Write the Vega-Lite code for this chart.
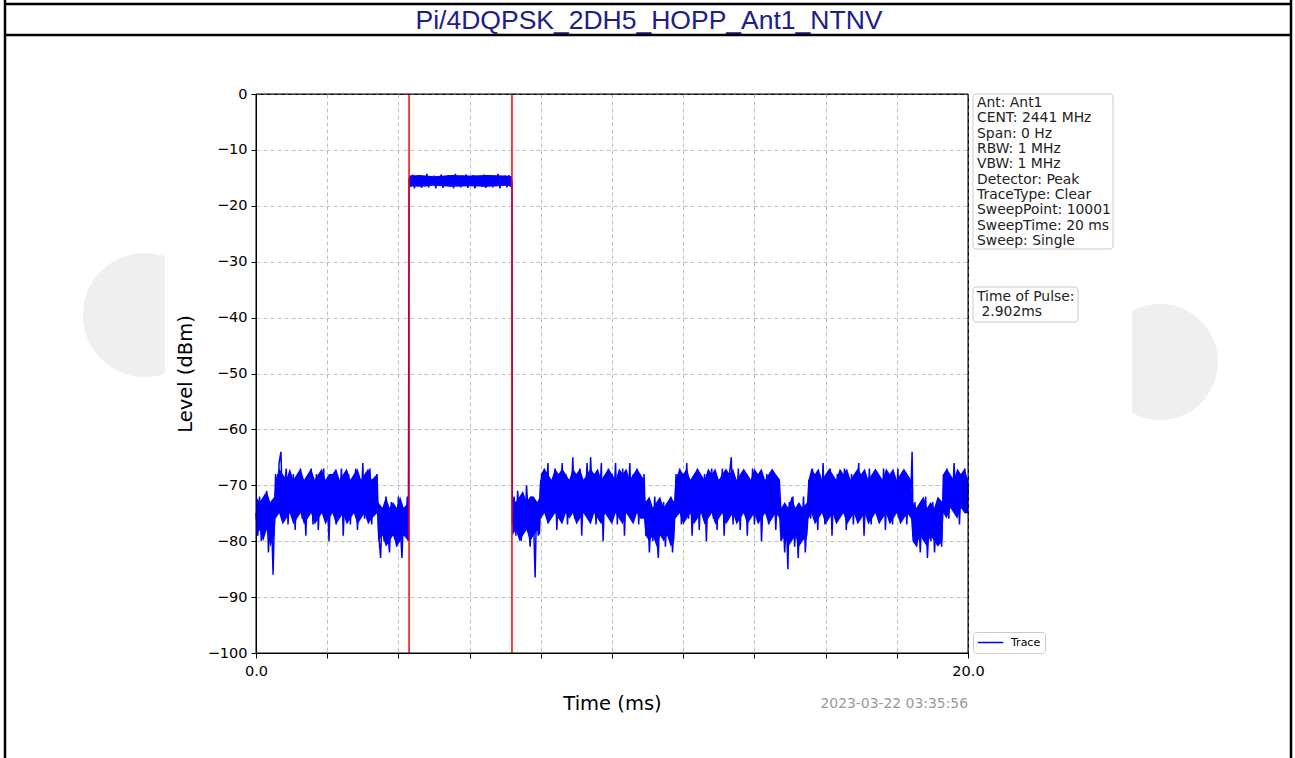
{
  "$schema": "https://vega.github.io/schema/vega-lite/v6.json",
  "autosize": {"type": "none"},
  "width": 712,
  "height": 559,
  "padding": {"left": 256, "top": 94, "right": 327, "bottom": 105},
  "background": "white",
  "config": {
    "view": {"stroke": "black", "strokeWidth": 1},
    "axis": {"labelFont": "DejaVu Sans", "labelFontSize": 14.5, "labelColor": "black", "tickColor": "black", "domainColor": "black", "tickSize": 5, "labelPadding": 4, "gridColor": "#b0b0b0", "gridDash": [4, 3], "gridWidth": 0.8, "titleFont": "DejaVu Sans", "titleFontSize": 19.5, "titleFontWeight": "normal", "titleColor": "black"}
  },
  "layer": [
    {
      "data": {"values": [{}]},
      "mark": {"type": "point", "shape": "M0.32,-0.947A1,1,0,1,0,0.32,0.947Z", "filled": true, "fill": "#efefef", "stroke": null, "opacity": 1, "size": 15376},
      "encoding": {"x": {"value": -111}, "y": {"value": 221}}
    },
    {
      "data": {"values": [{}]},
      "mark": {"type": "point", "shape": "M-0.483,-0.876A1,1,0,1,1,-0.483,0.876Z", "filled": true, "fill": "#efefef", "stroke": null, "opacity": 1, "size": 13456},
      "encoding": {"x": {"value": 904}, "y": {"value": 268}}
    },
    {
      "data": {"values": [
        {"t":0,"lo":-79,"hi":-72},{"t":0.1,"lo":-78,"hi":-73},{"t":0.2,"lo":-80,"hi":-72},{"t":0.3,"lo":-78,"hi":-71},{"t":0.4,"lo":-81,"hi":-73},{"t":0.52,"lo":-79,"hi":-72},
        {"t":0.55,"lo":-76,"hi":-69},{"t":0.65,"lo":-75,"hi":-67},{"t":0.75,"lo":-77,"hi":-68},{"t":0.85,"lo":-76,"hi":-69},{"t":0.95,"lo":-75,"hi":-67},{"t":1.05,"lo":-77,"hi":-69},{"t":1.15,"lo":-76,"hi":-68},{"t":1.25,"lo":-75,"hi":-67},{"t":1.35,"lo":-77,"hi":-69},{"t":1.45,"lo":-76,"hi":-68},{"t":1.55,"lo":-75,"hi":-67},{"t":1.65,"lo":-77,"hi":-69},{"t":1.75,"lo":-76,"hi":-68},{"t":1.85,"lo":-75,"hi":-67},{"t":1.95,"lo":-77,"hi":-69},{"t":2.05,"lo":-76,"hi":-68},{"t":2.15,"lo":-75,"hi":-68},{"t":2.25,"lo":-77,"hi":-67},{"t":2.35,"lo":-76,"hi":-69},{"t":2.45,"lo":-75,"hi":-68},{"t":2.55,"lo":-77,"hi":-67},{"t":2.65,"lo":-76,"hi":-69},{"t":2.75,"lo":-75,"hi":-68},{"t":2.85,"lo":-77,"hi":-67},{"t":2.95,"lo":-76,"hi":-69},{"t":3.05,"lo":-75,"hi":-68},{"t":3.15,"lo":-77,"hi":-67},{"t":3.25,"lo":-76,"hi":-69},{"t":3.4,"lo":-75,"hi":-68},
        {"t":3.43,"lo":-80,"hi":-73},{"t":3.55,"lo":-79,"hi":-74},{"t":3.65,"lo":-81,"hi":-72},{"t":3.75,"lo":-80,"hi":-74},{"t":3.85,"lo":-79,"hi":-73},{"t":3.95,"lo":-81,"hi":-74},{"t":4.05,"lo":-80,"hi":-72},{"t":4.15,"lo":-79,"hi":-74},{"t":4.28,"lo":-80,"hi":-73},
        {"t":4.3,"lo":-16.5,"hi":-14.6},{"t":4.6,"lo":-16.6,"hi":-14.5},{"t":5,"lo":-16.4,"hi":-14.7},{"t":5.5,"lo":-16.6,"hi":-14.5},{"t":6,"lo":-16.5,"hi":-14.6},{"t":6.5,"lo":-16.6,"hi":-14.5},{"t":7,"lo":-16.4,"hi":-14.6},{"t":7.19,"lo":-16.5,"hi":-14.7},
        {"t":7.2,"lo":-79,"hi":-72},{"t":7.3,"lo":-78,"hi":-73},{"t":7.4,"lo":-80,"hi":-72},{"t":7.5,"lo":-79,"hi":-71},{"t":7.6,"lo":-78,"hi":-73},{"t":7.7,"lo":-80,"hi":-72},{"t":7.8,"lo":-79,"hi":-72},{"t":7.9,"lo":-78,"hi":-73},{"t":7.98,"lo":-79,"hi":-72},
        {"t":8,"lo":-76,"hi":-68},{"t":8.1,"lo":-75,"hi":-67},{"t":8.2,"lo":-77,"hi":-68},{"t":8.3,"lo":-76,"hi":-69},{"t":8.4,"lo":-75,"hi":-67},{"t":8.5,"lo":-76,"hi":-68},{"t":8.6,"lo":-77,"hi":-67},{"t":8.7,"lo":-75,"hi":-68},{"t":8.8,"lo":-76,"hi":-69},{"t":8.9,"lo":-75,"hi":-67},{"t":9,"lo":-77,"hi":-68},{"t":9.1,"lo":-76,"hi":-67},{"t":9.2,"lo":-75,"hi":-69},{"t":9.3,"lo":-76,"hi":-68},{"t":9.4,"lo":-77,"hi":-67},{"t":9.5,"lo":-75,"hi":-68},{"t":9.6,"lo":-76,"hi":-67},{"t":9.7,"lo":-77,"hi":-69},{"t":9.8,"lo":-75,"hi":-68},{"t":9.9,"lo":-76,"hi":-67},{"t":10,"lo":-77,"hi":-68},{"t":10.1,"lo":-75,"hi":-69},{"t":10.2,"lo":-76,"hi":-67},{"t":10.3,"lo":-77,"hi":-68},{"t":10.4,"lo":-75,"hi":-67},{"t":10.5,"lo":-76,"hi":-69},{"t":10.6,"lo":-77,"hi":-68},{"t":10.7,"lo":-75,"hi":-67},{"t":10.8,"lo":-76,"hi":-68},{"t":10.9,"lo":-76,"hi":-69},
        {"t":10.94,"lo":-79,"hi":-73},{"t":11.05,"lo":-80,"hi":-72},{"t":11.15,"lo":-79,"hi":-74},{"t":11.25,"lo":-81,"hi":-73},{"t":11.35,"lo":-79,"hi":-72},{"t":11.45,"lo":-80,"hi":-74},{"t":11.55,"lo":-79,"hi":-73},{"t":11.65,"lo":-81,"hi":-72},{"t":11.75,"lo":-80,"hi":-73},
        {"t":11.78,"lo":-76,"hi":-69},{"t":11.9,"lo":-75,"hi":-67},{"t":12,"lo":-77,"hi":-68},{"t":12.1,"lo":-76,"hi":-67},{"t":12.2,"lo":-75,"hi":-69},{"t":12.3,"lo":-77,"hi":-68},{"t":12.4,"lo":-76,"hi":-67},{"t":12.5,"lo":-75,"hi":-68},{"t":12.6,"lo":-77,"hi":-69},{"t":12.7,"lo":-76,"hi":-67},{"t":12.8,"lo":-75,"hi":-68},{"t":12.9,"lo":-77,"hi":-67},{"t":13,"lo":-76,"hi":-69},{"t":13.1,"lo":-75,"hi":-68},{"t":13.2,"lo":-77,"hi":-67},{"t":13.3,"lo":-76,"hi":-68},{"t":13.4,"lo":-75,"hi":-67},{"t":13.5,"lo":-77,"hi":-69},{"t":13.6,"lo":-76,"hi":-68},{"t":13.7,"lo":-75,"hi":-67},{"t":13.8,"lo":-77,"hi":-68},{"t":13.9,"lo":-76,"hi":-69},{"t":14,"lo":-75,"hi":-67},{"t":14.1,"lo":-77,"hi":-68},{"t":14.2,"lo":-76,"hi":-67},{"t":14.3,"lo":-75,"hi":-69},{"t":14.4,"lo":-77,"hi":-68},{"t":14.5,"lo":-76,"hi":-67},{"t":14.6,"lo":-75,"hi":-68},{"t":14.72,"lo":-76,"hi":-69},
        {"t":14.76,"lo":-80,"hi":-74},{"t":14.85,"lo":-79,"hi":-73},{"t":14.95,"lo":-81,"hi":-74},{"t":15.05,"lo":-80,"hi":-72},{"t":15.15,"lo":-79,"hi":-74},{"t":15.25,"lo":-81,"hi":-73},{"t":15.35,"lo":-80,"hi":-74},{"t":15.49,"lo":-79,"hi":-73},
        {"t":15.52,"lo":-76,"hi":-69},{"t":15.6,"lo":-75,"hi":-67},{"t":15.7,"lo":-77,"hi":-68},{"t":15.8,"lo":-76,"hi":-67},{"t":15.9,"lo":-75,"hi":-69},{"t":16,"lo":-77,"hi":-68},{"t":16.1,"lo":-76,"hi":-67},{"t":16.2,"lo":-75,"hi":-68},{"t":16.3,"lo":-77,"hi":-69},{"t":16.4,"lo":-76,"hi":-67},{"t":16.5,"lo":-75,"hi":-68},{"t":16.6,"lo":-77,"hi":-67},{"t":16.7,"lo":-76,"hi":-69},{"t":16.8,"lo":-75,"hi":-68},{"t":16.9,"lo":-77,"hi":-67},{"t":17,"lo":-76,"hi":-68},{"t":17.1,"lo":-75,"hi":-67},{"t":17.2,"lo":-77,"hi":-69},{"t":17.3,"lo":-76,"hi":-68},{"t":17.4,"lo":-75,"hi":-67},{"t":17.5,"lo":-77,"hi":-68},{"t":17.6,"lo":-76,"hi":-69},{"t":17.7,"lo":-75,"hi":-67},{"t":17.8,"lo":-77,"hi":-68},{"t":17.9,"lo":-76,"hi":-67},{"t":18,"lo":-75,"hi":-69},{"t":18.1,"lo":-77,"hi":-68},{"t":18.2,"lo":-76,"hi":-67},{"t":18.3,"lo":-75,"hi":-68},{"t":18.4,"lo":-76,"hi":-69},
        {"t":18.44,"lo":-80,"hi":-73},{"t":18.55,"lo":-81,"hi":-74},{"t":18.65,"lo":-79,"hi":-73},{"t":18.75,"lo":-80,"hi":-72},{"t":18.85,"lo":-81,"hi":-74},{"t":18.95,"lo":-79,"hi":-73},{"t":19.05,"lo":-80,"hi":-74},{"t":19.15,"lo":-81,"hi":-72},{"t":19.28,"lo":-80,"hi":-73},
        {"t":19.31,"lo":-75,"hi":-68},{"t":19.4,"lo":-76,"hi":-67},{"t":19.5,"lo":-74,"hi":-68},{"t":19.6,"lo":-75,"hi":-69},{"t":19.7,"lo":-76,"hi":-67},{"t":19.8,"lo":-74,"hi":-68},{"t":19.9,"lo":-75,"hi":-67},{"t":20,"lo":-75,"hi":-69}
      ]},
      "mark": {"type": "area", "interpolate": "linear", "color": "#0000ff", "opacity": 1},
      "encoding": {
        "x": {"field": "t", "type": "quantitative", "title": "Time (ms)"},
        "y": {"field": "lo", "type": "quantitative", "title": "Level (dBm)"},
        "y2": {"field": "hi"}
      }
    },
    {
      "data": {"values": [
        {"t":0,"v":-75},{"t":0.05,"v":-79},{"t":0.1,"v":-72},{"t":0.15,"v":-80},{"t":0.2,"v":-73},{"t":0.25,"v":-78},{"t":0.3,"v":-71},{"t":0.35,"v":-82},{"t":0.4,"v":-74},{"t":0.45,"v":-79},{"t":0.48,"v":-86},{"t":0.52,"v":-75},
        {"t":0.55,"v":-68},{"t":0.6,"v":-74},{"t":0.65,"v":-66},{"t":0.7,"v":-64},{"t":0.75,"v":-75},{"t":0.8,"v":-70},{"t":0.85,"v":-67},{"t":0.9,"v":-77},{"t":0.95,"v":-69},{"t":1,"v":-74},{"t":1.05,"v":-68},{"t":1.1,"v":-78},{"t":1.15,"v":-70},{"t":1.2,"v":-75},{"t":1.25,"v":-67},{"t":1.3,"v":-76},{"t":1.35,"v":-71},{"t":1.4,"v":-79},{"t":1.45,"v":-69},{"t":1.5,"v":-74},{"t":1.55,"v":-67},{"t":1.6,"v":-77},{"t":1.65,"v":-72},{"t":1.7,"v":-68},{"t":1.75,"v":-78},{"t":1.8,"v":-70},{"t":1.85,"v":-74},{"t":1.9,"v":-67},{"t":1.95,"v":-76},{"t":2,"v":-71},{"t":2.05,"v":-80},{"t":2.1,"v":-69},{"t":2.15,"v":-75},{"t":2.2,"v":-68},{"t":2.25,"v":-77},{"t":2.3,"v":-70},{"t":2.35,"v":-73},{"t":2.4,"v":-67},{"t":2.45,"v":-79},{"t":2.5,"v":-71},{"t":2.55,"v":-75},{"t":2.6,"v":-68},{"t":2.65,"v":-77},{"t":2.7,"v":-69},{"t":2.75,"v":-74},{"t":2.8,"v":-67},{"t":2.85,"v":-78},{"t":2.9,"v":-70},{"t":2.95,"v":-75},{"t":3,"v":-66},{"t":3.05,"v":-76},{"t":3.1,"v":-69},{"t":3.15,"v":-74},{"t":3.2,"v":-67},{"t":3.25,"v":-77},{"t":3.3,"v":-70},{"t":3.35,"v":-75},{"t":3.4,"v":-68},
        {"t":3.45,"v":-79},{"t":3.5,"v":-83},{"t":3.55,"v":-74},{"t":3.6,"v":-80},{"t":3.65,"v":-72},{"t":3.7,"v":-78},{"t":3.75,"v":-82},{"t":3.8,"v":-73},{"t":3.85,"v":-79},{"t":3.9,"v":-75},{"t":3.95,"v":-81},{"t":4,"v":-72},{"t":4.05,"v":-77},{"t":4.1,"v":-83},{"t":4.15,"v":-74},{"t":4.2,"v":-79},{"t":4.25,"v":-72},{"t":4.28,"v":-80},
        {"t":4.3,"v":-15},{"t":4.35,"v":-16.6},{"t":4.4,"v":-14.4},{"t":4.45,"v":-16.9},{"t":4.5,"v":-14.8},{"t":4.55,"v":-16.3},{"t":4.6,"v":-14.5},{"t":4.65,"v":-16.8},{"t":4.7,"v":-15},{"t":4.75,"v":-16.5},{"t":4.8,"v":-14.3},{"t":4.85,"v":-16.7},{"t":4.9,"v":-14.9},{"t":4.95,"v":-16.2},{"t":5,"v":-14.6},{"t":5.05,"v":-16.9},{"t":5.1,"v":-15.1},{"t":5.15,"v":-16.4},{"t":5.2,"v":-14.4},{"t":5.25,"v":-16.8},{"t":5.3,"v":-14.7},{"t":5.35,"v":-16.1},{"t":5.4,"v":-14.5},{"t":5.45,"v":-16.6},{"t":5.5,"v":-14.9},{"t":5.55,"v":-16.9},{"t":5.6,"v":-14.3},{"t":5.65,"v":-16.5},{"t":5.7,"v":-15},{"t":5.75,"v":-16.7},{"t":5.8,"v":-14.6},{"t":5.85,"v":-16.2},{"t":5.9,"v":-14.4},{"t":5.95,"v":-16.8},{"t":6,"v":-14.8},{"t":6.05,"v":-16.4},{"t":6.1,"v":-14.5},{"t":6.15,"v":-16.9},{"t":6.2,"v":-15},{"t":6.25,"v":-16.3},{"t":6.3,"v":-14.7},{"t":6.35,"v":-16.6},{"t":6.4,"v":-14.4},{"t":6.45,"v":-16.8},{"t":6.5,"v":-14.9},{"t":6.55,"v":-16.2},{"t":6.6,"v":-14.5},{"t":6.65,"v":-16.7},{"t":6.7,"v":-14.6},{"t":6.75,"v":-16.5},{"t":6.8,"v":-14.3},{"t":6.85,"v":-16.9},{"t":6.9,"v":-14.8},{"t":6.95,"v":-16.4},{"t":7,"v":-14.6},{"t":7.05,"v":-16.7},{"t":7.1,"v":-14.5},{"t":7.15,"v":-16.6},{"t":7.19,"v":-15.5},
        {"t":7.2,"v":-77},{"t":7.25,"v":-72},{"t":7.3,"v":-79},{"t":7.35,"v":-71},{"t":7.4,"v":-76},{"t":7.45,"v":-80},{"t":7.5,"v":-73},{"t":7.55,"v":-78},{"t":7.6,"v":-70},{"t":7.65,"v":-76},{"t":7.7,"v":-81},{"t":7.75,"v":-72},{"t":7.8,"v":-77},{"t":7.84,"v":-86.5},{"t":7.88,"v":-74},{"t":7.93,"v":-79},{"t":7.98,"v":-71},
        {"t":8,"v":-69},{"t":8.05,"v":-75},{"t":8.1,"v":-67},{"t":8.15,"v":-73},{"t":8.2,"v":-66},{"t":8.25,"v":-76},{"t":8.3,"v":-69},{"t":8.35,"v":-74},{"t":8.4,"v":-67},{"t":8.45,"v":-78},{"t":8.5,"v":-70},{"t":8.55,"v":-73},{"t":8.6,"v":-66},{"t":8.65,"v":-75},{"t":8.7,"v":-68},{"t":8.75,"v":-77},{"t":8.8,"v":-69},{"t":8.85,"v":-73},{"t":8.9,"v":-65},{"t":8.95,"v":-76},{"t":9,"v":-70},{"t":9.05,"v":-74},{"t":9.1,"v":-67},{"t":9.15,"v":-79},{"t":9.2,"v":-69},{"t":9.25,"v":-73},{"t":9.3,"v":-66},{"t":9.35,"v":-75},{"t":9.4,"v":-65},{"t":9.45,"v":-74},{"t":9.5,"v":-68},{"t":9.55,"v":-77},{"t":9.6,"v":-70},{"t":9.65,"v":-73},{"t":9.7,"v":-66},{"t":9.75,"v":-80},{"t":9.8,"v":-69},{"t":9.85,"v":-74},{"t":9.9,"v":-67},{"t":9.95,"v":-76},{"t":10,"v":-68},{"t":10.05,"v":-73},{"t":10.1,"v":-66},{"t":10.15,"v":-77},{"t":10.2,"v":-69},{"t":10.25,"v":-75},{"t":10.3,"v":-67},{"t":10.35,"v":-79},{"t":10.4,"v":-70},{"t":10.45,"v":-74},{"t":10.5,"v":-66},{"t":10.55,"v":-76},{"t":10.6,"v":-68},{"t":10.65,"v":-73},{"t":10.7,"v":-67},{"t":10.75,"v":-77},{"t":10.8,"v":-70},{"t":10.85,"v":-74},{"t":10.9,"v":-68},
        {"t":10.95,"v":-79},{"t":11,"v":-73},{"t":11.05,"v":-82},{"t":11.1,"v":-75},{"t":11.15,"v":-80},{"t":11.2,"v":-72},{"t":11.25,"v":-78},{"t":11.3,"v":-83},{"t":11.35,"v":-74},{"t":11.4,"v":-79},{"t":11.45,"v":-73},{"t":11.5,"v":-81},{"t":11.55,"v":-75},{"t":11.6,"v":-78},{"t":11.65,"v":-72},{"t":11.7,"v":-82},{"t":11.75,"v":-76},
        {"t":11.8,"v":-68},{"t":11.85,"v":-75},{"t":11.9,"v":-67},{"t":11.95,"v":-77},{"t":12,"v":-70},{"t":12.05,"v":-74},{"t":12.1,"v":-66},{"t":12.15,"v":-76},{"t":12.2,"v":-69},{"t":12.25,"v":-79},{"t":12.3,"v":-71},{"t":12.35,"v":-74},{"t":12.4,"v":-67},{"t":12.45,"v":-78},{"t":12.5,"v":-70},{"t":12.55,"v":-75},{"t":12.6,"v":-68},{"t":12.65,"v":-80},{"t":12.7,"v":-71},{"t":12.75,"v":-74},{"t":12.8,"v":-67},{"t":12.85,"v":-76},{"t":12.9,"v":-69},{"t":12.95,"v":-78},{"t":13,"v":-70},{"t":13.05,"v":-73},{"t":13.1,"v":-67},{"t":13.15,"v":-79},{"t":13.2,"v":-69},{"t":13.25,"v":-75},{"t":13.3,"v":-68},{"t":13.35,"v":-65},{"t":13.4,"v":-77},{"t":13.45,"v":-70},{"t":13.5,"v":-74},{"t":13.55,"v":-67},{"t":13.6,"v":-78},{"t":13.65,"v":-70},{"t":13.7,"v":-75},{"t":13.75,"v":-68},{"t":13.8,"v":-79},{"t":13.85,"v":-71},{"t":13.9,"v":-74},{"t":13.95,"v":-67},{"t":14,"v":-77},{"t":14.05,"v":-70},{"t":14.1,"v":-75},{"t":14.15,"v":-68},{"t":14.2,"v":-80},{"t":14.25,"v":-71},{"t":14.3,"v":-74},{"t":14.35,"v":-68},{"t":14.4,"v":-77},{"t":14.45,"v":-70},{"t":14.5,"v":-75},{"t":14.55,"v":-68},{"t":14.6,"v":-78},{"t":14.65,"v":-71},{"t":14.7,"v":-74},
        {"t":14.75,"v":-80},{"t":14.8,"v":-74},{"t":14.85,"v":-82},{"t":14.9,"v":-76},{"t":14.94,"v":-85},{"t":14.98,"v":-73},{"t":15.03,"v":-79},{"t":15.08,"v":-72},{"t":15.13,"v":-81},{"t":15.18,"v":-75},{"t":15.23,"v":-83},{"t":15.28,"v":-74},{"t":15.33,"v":-79},{"t":15.38,"v":-72},{"t":15.43,"v":-82},{"t":15.48,"v":-76},
        {"t":15.53,"v":-69},{"t":15.58,"v":-76},{"t":15.63,"v":-67},{"t":15.68,"v":-75},{"t":15.73,"v":-70},{"t":15.78,"v":-78},{"t":15.83,"v":-68},{"t":15.88,"v":-74},{"t":15.93,"v":-66},{"t":15.98,"v":-77},{"t":16.03,"v":-70},{"t":16.08,"v":-74},{"t":16.13,"v":-67},{"t":16.18,"v":-79},{"t":16.23,"v":-69},{"t":16.28,"v":-75},{"t":16.33,"v":-68},{"t":16.38,"v":-76},{"t":16.43,"v":-70},{"t":16.48,"v":-74},{"t":16.53,"v":-67},{"t":16.58,"v":-78},{"t":16.63,"v":-69},{"t":16.68,"v":-75},{"t":16.73,"v":-68},{"t":16.78,"v":-77},{"t":16.83,"v":-70},{"t":16.88,"v":-74},{"t":16.93,"v":-66},{"t":16.98,"v":-76},{"t":17.03,"v":-69},{"t":17.08,"v":-79},{"t":17.13,"v":-70},{"t":17.18,"v":-74},{"t":17.23,"v":-67},{"t":17.28,"v":-77},{"t":17.33,"v":-69},{"t":17.38,"v":-75},{"t":17.43,"v":-68},{"t":17.48,"v":-76},{"t":17.53,"v":-70},{"t":17.58,"v":-74},{"t":17.63,"v":-67},{"t":17.68,"v":-78},{"t":17.73,"v":-70},{"t":17.78,"v":-75},{"t":17.83,"v":-68},{"t":17.88,"v":-77},{"t":17.93,"v":-69},{"t":17.98,"v":-74},{"t":18.03,"v":-67},{"t":18.08,"v":-76},{"t":18.13,"v":-70},{"t":18.18,"v":-75},{"t":18.23,"v":-68},{"t":18.28,"v":-77},{"t":18.33,"v":-70},{"t":18.38,"v":-74},
        {"t":18.43,"v":-64},{"t":18.46,"v":-79},{"t":18.51,"v":-73},{"t":18.56,"v":-81},{"t":18.61,"v":-75},{"t":18.66,"v":-82},{"t":18.71,"v":-74},{"t":18.76,"v":-79},{"t":18.81,"v":-72},{"t":18.86,"v":-83},{"t":18.91,"v":-76},{"t":18.96,"v":-80},{"t":19.01,"v":-73},{"t":19.06,"v":-82},{"t":19.11,"v":-75},{"t":19.16,"v":-79},{"t":19.21,"v":-73},{"t":19.26,"v":-81},
        {"t":19.31,"v":-68},{"t":19.36,"v":-74},{"t":19.41,"v":-67},{"t":19.46,"v":-76},{"t":19.51,"v":-69},{"t":19.56,"v":-73},{"t":19.61,"v":-66},{"t":19.66,"v":-75},{"t":19.71,"v":-68},{"t":19.76,"v":-77},{"t":19.81,"v":-69},{"t":19.86,"v":-73},{"t":19.91,"v":-67},{"t":19.96,"v":-75},{"t":20,"v":-70}
      ]},
      "mark": {"type": "line", "strokeWidth": 1.5},
      "encoding": {
        "x": {"field": "t", "type": "quantitative", "scale": {"domain": [0, 20], "nice": false, "zero": false},
              "axis": {"title": "Time (ms)", "values": [0, 2, 4, 6, 8, 10, 12, 14, 16, 18, 20], "labelExpr": "datum.value == 0 || datum.value == 20 ? format(datum.value, '.1f') : ''", "grid": true, "labelFlush": false, "labelPadding": 6, "titlePadding": 17}},
        "y": {"field": "v", "type": "quantitative", "scale": {"domain": [-100, 0], "nice": false, "zero": false},
              "axis": {"title": "Level (dBm)", "values": [-100, -90, -80, -70, -60, -50, -40, -30, -20, -10, 0], "grid": true, "titlePadding": 12}},
        "color": {"datum": "Trace", "type": "nominal", "scale": {"range": ["#0000ff"]},
                  "legend": {"title": null, "orient": "none", "legendX": 717, "legendY": 538, "symbolType": "stroke", "symbolSize": 650, "symbolStrokeWidth": 1.5, "labelFont": "DejaVu Sans", "labelFontSize": 11, "labelColor": "black", "labelOffset": 7, "clipHeight": 13, "fillColor": "white", "strokeColor": "#cccccc", "cornerRadius": 3, "padding": 4}}
      }
    },
    {
      "data": {"values": [{"t": 4.3}, {"t": 7.19}]},
      "mark": {"type": "rule", "color": "#ff0000", "strokeWidth": 1.5},
      "encoding": {"x": {"field": "t", "type": "quantitative"}}
    },
    {
      "data": {"values": [{}]},
      "mark": {"type": "rect", "fill": null, "fillOpacity": 0, "stroke": "black", "strokeWidth": 1},
      "encoding": {"x": {"value": 0}, "x2": {"value": 712}, "y": {"value": 0}, "y2": {"value": 559}}
    },
    {
      "data": {"values": [{}]},
      "mark": {"type": "rect", "fill": "white", "stroke": "#cccccc", "strokeWidth": 1, "cornerRadius": 3},
      "encoding": {"x": {"value": 717}, "x2": {"value": 857}, "y": {"value": 0}, "y2": {"value": 155}}
    },
    {
      "data": {"values": [{}]},
      "mark": {"type": "text", "text": ["Ant: Ant1", "CENT: 2441 MHz", "Span: 0 Hz", "RBW: 1 MHz", "VBW: 1 MHz", "Detector: Peak", "TraceType: Clear", "SweepPoint: 10001", "SweepTime: 20 ms", "Sweep: Single"], "align": "left", "baseline": "alphabetic", "font": "DejaVu Sans", "fontSize": 13.9, "lineHeight": 15.33, "color": "#222222"},
      "encoding": {"x": {"value": 721}, "y": {"value": 13}}
    },
    {
      "data": {"values": [{}]},
      "mark": {"type": "rect", "fill": "white", "stroke": "#cccccc", "strokeWidth": 1, "cornerRadius": 3},
      "encoding": {"x": {"value": 717}, "x2": {"value": 822}, "y": {"value": 193}, "y2": {"value": 228}}
    },
    {
      "data": {"values": [{}]},
      "mark": {"type": "text", "text": "Time of Pulse:", "align": "left", "baseline": "alphabetic", "font": "DejaVu Sans", "fontSize": 13.9, "color": "#222222"},
      "encoding": {"x": {"value": 721}, "y": {"value": 207}}
    },
    {
      "data": {"values": [{}]},
      "mark": {"type": "text", "text": "2.902ms", "align": "left", "baseline": "alphabetic", "font": "DejaVu Sans", "fontSize": 13.9, "color": "#222222"},
      "encoding": {"x": {"value": 725.5}, "y": {"value": 222.3}}
    },
    {
      "data": {"values": [{}]},
      "mark": {"type": "text", "text": "2023-03-22 03:35:56", "align": "right", "baseline": "alphabetic", "font": "DejaVu Sans", "fontSize": 13.9, "color": "#999999"},
      "encoding": {"x": {"value": 712}, "y": {"value": 614}}
    },
    {
      "data": {"values": [{}]},
      "mark": {"type": "text", "text": "Pi/4DQPSK_2DH5_HOPP_Ant1_NTNV", "align": "center", "baseline": "alphabetic", "font": "Liberation Sans", "fontSize": 26.5, "color": "#1c2089"},
      "encoding": {"x": {"value": 393}, "y": {"value": -65.5}}
    },
    {
      "data": {"values": [{}]},
      "mark": {"type": "rule", "color": "black", "strokeWidth": 2.5},
      "encoding": {"x": {"value": -251}, "y": {"value": -94}, "y2": {"value": 664}}
    },
    {
      "data": {"values": [{}]},
      "mark": {"type": "rule", "color": "black", "strokeWidth": 2.5},
      "encoding": {"x": {"value": 1035}, "y": {"value": -94}, "y2": {"value": 664}}
    },
    {
      "data": {"values": [{}]},
      "mark": {"type": "rule", "color": "black", "strokeWidth": 2.5},
      "encoding": {"x": {"value": -252}, "x2": {"value": 1036}, "y": {"value": -90}}
    },
    {
      "data": {"values": [{}]},
      "mark": {"type": "rule", "color": "black", "strokeWidth": 2.5},
      "encoding": {"x": {"value": -252}, "x2": {"value": 1036}, "y": {"value": -59}}
    }
  ]
}
